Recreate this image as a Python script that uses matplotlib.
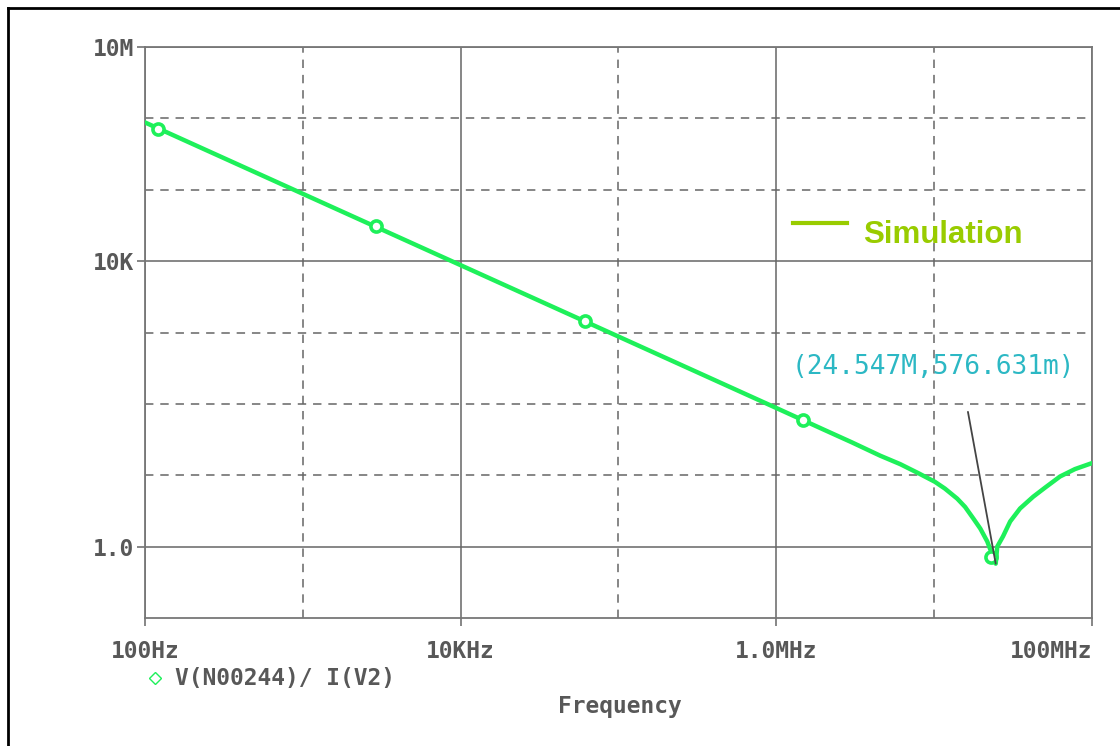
import matplotlib
matplotlib.use("Agg")
import matplotlib.pyplot as plt
from matplotlib.lines import Line2D

# impedance curve
FREQ = [100, 1e3, 1e4, 1e5, 1e6, 2e6, 3e6, 4.55e6, 6.1e6, 8e6, 10.1e6, 11.7e6,
        14e6, 15.7e6, 17.7e6, 19.6e6, 21.7e6, 23.2e6, 24.547e6, 25.1e6, 27.3e6,
        30.3e6, 35e6, 42.4e6, 50.4e6, 62.7e6, 78e6, 100e6]
IMPEDANCE = [877e3, 87.7e3, 8.77e3, 877, 87.5, 43.5, 29.0, 18.8, 14.3, 10.6, 8.1, 6.5,
             4.7, 3.6, 2.48, 1.79, 1.18, 0.8, 0.577, 1.0, 1.39,
             2.25, 3.42, 5.0, 6.7, 9.6, 12.2, 14.8]

# symbol markers along the trace
MARK_FREQ = [121, 2.9e3, 60.9e3, 1.48e6, 23.0e6]
MARK_Z = [716e3, 30.6e3, 1442, 59.8, 0.72]

DIP_FREQ = 24.547e6
DIP_Z = 0.577

XTICKS = [1e2, 1e4, 1e6, 1e8]
XTICK_LBL = ["100Hz", "10KHz", "1.0MHz", "100MHz"]
XMINOR = [1e3, 1e5, 1e7]
YTICKS = [1.0, 1e4, 1e7]
YTICK_LBL = ["1.0", "10K", "10M"]
YMINOR = [10, 100, 1e3, 1e5, 1e6]

TRACE = "#1ef05a"
GRID = "#666666"
TXT = "#585858"
MONO = "DejaVu Sans Mono"
LBLSIZE = 16.5

fig = plt.figure(figsize=(11.2, 7.46), dpi=100)
ax = fig.add_axes([145 / 1120, 1 - 618 / 746, 947 / 1120, 571 / 746])

ax.set_xscale("log")
ax.set_yscale("log")
ax.set_xlim(1e2, 1e8)
ax.set_ylim(0.1, 1e7)

ax.set_xticks(XTICKS)
ax.set_xticklabels(XTICK_LBL, fontfamily=MONO, fontweight="bold", fontsize=LBLSIZE, color=TXT)
ax.set_xticks(XMINOR, minor=True)
ax.set_xticklabels([], minor=True)
ax.set_yticks(YTICKS)
ax.set_yticklabels(YTICK_LBL, fontfamily=MONO, fontweight="bold", fontsize=LBLSIZE, color=TXT)
ax.set_yticks(YMINOR, minor=True)
ax.set_yticklabels([], minor=True)
ax.xaxis.get_majorticklabels()[-1].set_horizontalalignment("right")

ax.tick_params(which="major", length=6, width=1.1, color=GRID, pad=10)
ax.tick_params(which="minor", length=0)
ax.tick_params(axis="y", which="major", pad=2)

ax.grid(True, which="major", color=GRID, lw=1.1, ls="-")
ax.grid(True, which="minor", color=GRID, lw=1.1, ls=(0, (5.5, 4.5)))
for s in ax.spines.values():
    s.set_color("#777777")
    s.set_linewidth(1.3)

ax.plot(FREQ, IMPEDANCE, color=TRACE, lw=3.2, zorder=3, solid_joinstyle="round")
ax.plot(MARK_FREQ, MARK_Z, ls="none", marker="o", ms=8, mfc="white",
        mec=TRACE, mew=2.6, zorder=4)

# cursor readout
ax.annotate("", xy=(DIP_FREQ, DIP_Z), xytext=(0.869, 0.361), textcoords="axes fraction",
            arrowprops=dict(arrowstyle="-", color="#444444", lw=1.3, shrinkA=0, shrinkB=0),
            zorder=5)
ax.text(0.832, 0.44, "(24.547M,576.631m)", transform=ax.transAxes, ha="center", va="center",
        fontfamily=MONO, fontsize=18.8, color="#2cb8c4")

# Simulation legend
ax.plot([0.684, 0.741], [0.692, 0.692], transform=ax.transAxes, color="#99cc00", lw=3.0,
        clip_on=False)
ax.text(0.758, 0.671, "Simulation", transform=ax.transAxes, ha="left", va="center",
        fontfamily="Liberation Sans", fontweight="bold", fontsize=22.5, color="#99cc00")

# trace legend and x label
fig.add_artist(Line2D([155 / 1120], [1 - 678 / 746], ls="none", marker="D", ms=6,
                      mfc="none", mec=TRACE, mew=1.0))
fig.text(175 / 1120, 1 - 678 / 746, "V(N00244)/ I(V2)", ha="left", va="center",
         fontfamily=MONO, fontweight="bold", fontsize=LBLSIZE, color=TXT)
fig.text(620 / 1120, 1 - 707 / 746, "Frequency", ha="center", va="center",
         fontfamily=MONO, fontweight="bold", fontsize=LBLSIZE, color=TXT)

# window frame
fig.add_artist(Line2D([8 / 1120, 8 / 1120], [0, 1 - 8 / 746], color="black", lw=2))
fig.add_artist(Line2D([8 / 1120, 1], [1 - 8 / 746, 1 - 8 / 746], color="black", lw=2))

fig.savefig("out.png", dpi=100)
